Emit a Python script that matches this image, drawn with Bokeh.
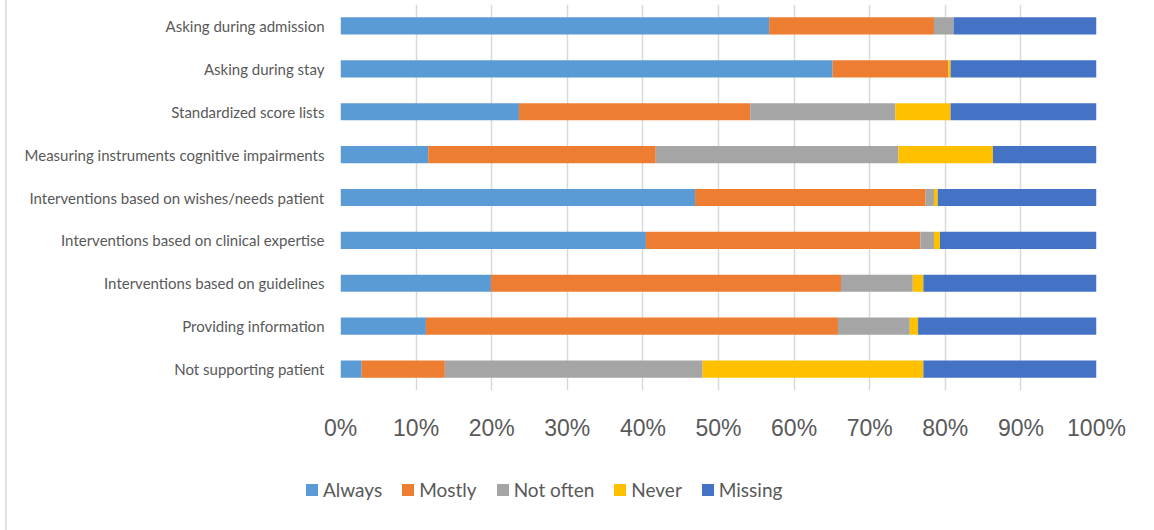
from bokeh.plotting import figure
from bokeh.layouts import column
from bokeh.models import FactorRange, NumeralTickFormatter, FixedTicker, Div
from bokeh.embed import file_html
from bokeh.resources import INLINE

categories = [
    "Asking during admission",
    "Asking during stay",
    "Standardized score lists",
    "Measuring instruments cognitive impairments",
    "Interventions based on wishes/needs patient",
    "Interventions based on clinical expertise",
    "Interventions based on guidelines",
    "Providing information",
    "Not supporting patient",
]
always    = [56.7, 65.1, 23.6, 11.6, 46.9, 40.4, 19.9, 11.3, 2.8]
mostly    = [21.8, 15.3, 30.6, 30.1, 30.5, 36.3, 46.3, 54.5, 11.0]
not_often = [2.6, 0.0, 19.2, 32.1, 1.1, 1.8, 9.5, 9.5, 34.1]
never     = [0.0, 0.3, 7.3, 12.5, 0.5, 0.8, 1.4, 1.1, 29.2]
missing   = [18.9, 19.3, 19.3, 13.7, 21.0, 20.7, 22.9, 23.6, 22.9]
series = ["Always", "Mostly", "Not often", "Never", "Missing"]
colors = ["#5B9BD5", "#ED7D31", "#A5A5A5", "#FFC000", "#4472C4"]
ticks = [0, 10, 20, 30, 40, 50, 60, 70, 80, 90, 100]

data = {"cat": categories, "Always": [v / 100 for v in always],
        "Mostly": [v / 100 for v in mostly], "Not often": [v / 100 for v in not_often],
        "Never": [v / 100 for v in never], "Missing": [v / 100 for v in missing]}

W = 1147
p = figure(width=W, height=450, output_backend="svg", toolbar_location=None,
           y_range=FactorRange(*reversed(categories)), x_range=(0, 1),
           min_border_left=333, min_border_right=58, min_border_top=4, min_border_bottom=60)
p.outline_line_color = None
p.background_fill_color = "white"
p.border_fill_color = "white"

p.hbar_stack(series, y="cat", height=0.4, color=colors, line_color=None, source=data)

p.xaxis.ticker = FixedTicker(ticks=[t / 100 for t in ticks])
p.xaxis.formatter = NumeralTickFormatter(format="0%")
p.xaxis.axis_line_color = None
p.xaxis.major_tick_line_color = None
p.xaxis.minor_tick_line_color = None
p.xaxis.major_label_text_font = "Liberation Sans"
p.xaxis.major_label_text_font_size = "23px"
p.xaxis.major_label_text_color = "#595959"
p.xaxis.major_label_standoff = 18

p.yaxis.axis_line_color = None
p.yaxis.major_tick_line_color = None
p.yaxis.minor_tick_line_color = None
p.yaxis.major_label_text_font = "Lato"
p.yaxis.major_label_text_font_size = "15px"
p.yaxis.major_label_text_color = "#595959"
p.yaxis.major_label_standoff = 10

p.xgrid.grid_line_color = "#d9d9d9"
p.xgrid.grid_line_width = 1.5
p.ygrid.grid_line_color = None

# legend row below the chart, built from the series names and colours
items_html = "".join(
    f'<span style="display:inline-flex;align-items:center;margin-right:20px">'
    f'<span style="display:inline-block;width:12px;height:12px;background:{c};margin-right:5px"></span>'
    f'{s}</span>'
    for s, c in zip(series, colors)
)
legend_div = Div(
    text=(f'<div style="margin-left:294px;margin-top:23px;display:flex;align-items:center;'
          f'white-space:nowrap;font-family:Lato;font-size:19px;line-height:23px;color:#595959">'
          f'{items_html}</div>'),
    width=W, height=80,
)

layout = column(p, legend_div, spacing=0)
layout.styles = {"margin-left": "5px", "border-left": "2px solid #e2e2e2"}

open("out.html", "w").write(file_html(layout, INLINE))
